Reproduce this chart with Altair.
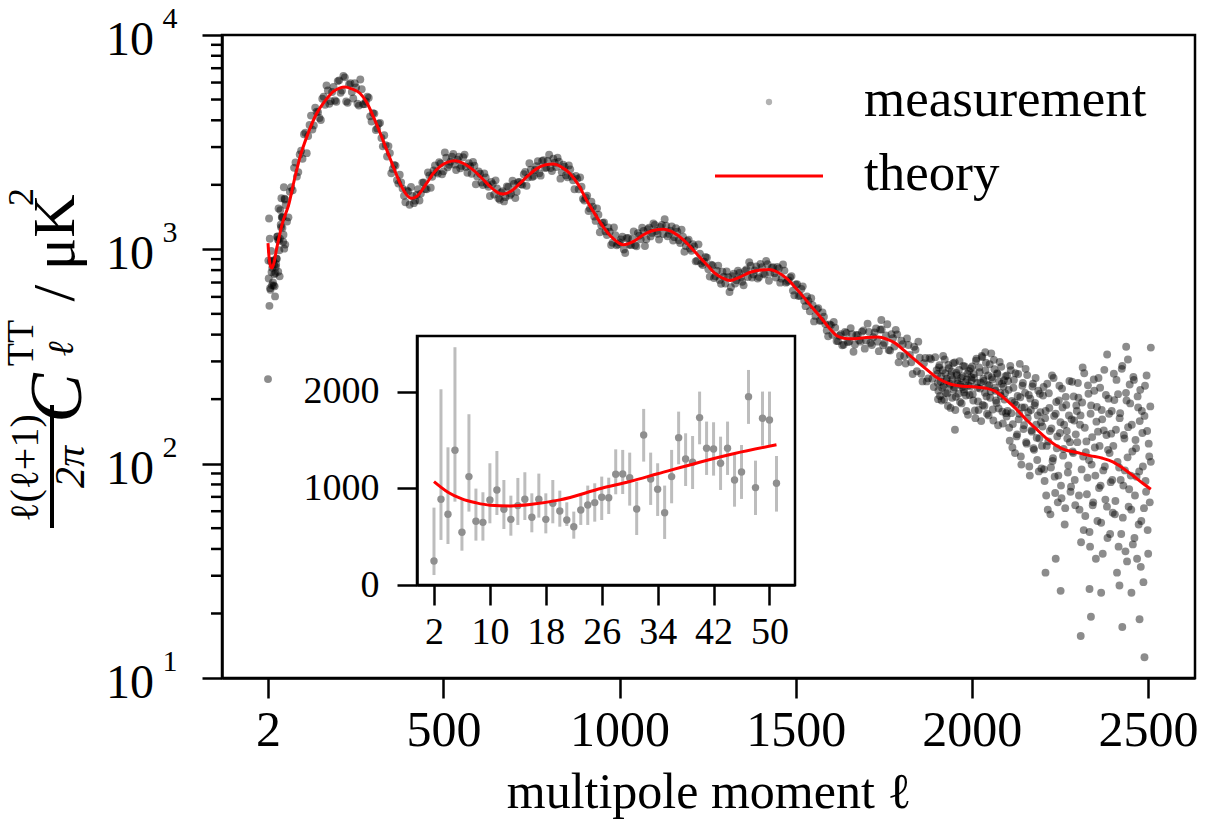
import altair as alt
import pandas as pd

# ---------------- data (read / estimated from the picture) ----------------
theory_ell = [2, 4, 6, 8, 10, 13, 16, 20, 26, 30, 34, 40, 45, 51, 60, 75, 93, 115, 140, 165, 187, 205, 221,
              240, 263, 282, 301, 320, 339, 358, 377, 395, 409, 425, 452, 470, 490, 512, 533, 560, 585, 610,
              633, 652, 670, 690, 717, 742, 765, 790, 812, 835, 859, 883, 906, 930, 954, 980, 1011, 1040,
              1068, 1096, 1124, 1152, 1182, 1205, 1230, 1250, 1270, 1292, 1314, 1340, 1371, 1400, 1424,
              1450, 1476, 1500, 1523, 1547, 1571, 1595, 1618, 1640, 1667, 1700, 1733, 1760, 1780, 1810,
              1838, 1866, 1895, 1920, 1943, 1975, 2009, 2040, 2066, 2095, 2124, 2152, 2181, 2210, 2238,
              2265, 2295, 2335, 2371, 2400, 2430, 2457, 2485, 2508]
theory_val = [1070, 960, 890, 850, 825, 818, 835, 880, 1000, 1070, 1150, 1270, 1360, 1450, 1600, 2050, 2700,
              3450, 4300, 4950, 5440, 5650, 5720, 5600, 5350, 4850, 4160, 3500, 2910, 2420, 2030, 1800,
              1730, 1770, 2030, 2250, 2430, 2550, 2590, 2500, 2340, 2140, 1960, 1850, 1810, 1860, 2030,
              2220, 2380, 2480, 2500, 2420, 2260, 2000, 1700, 1460, 1270, 1130, 1050, 1090, 1170, 1225,
              1240, 1200, 1105, 1010, 910, 840, 775, 735, 715, 740, 782, 800, 805, 780, 728, 660, 597, 535,
              481, 430, 394, 384, 383, 388, 390, 380, 367, 335, 306, 280, 256, 242, 234, 230, 228, 225,
              218, 200, 181, 162, 146, 132, 122, 116, 113, 109, 106, 102, 95, 88, 81, 76]

# low multipoles (inset), ell = 2 .. 51
low_ell_start = 2
low_val = [248, 886, 731, 1393, 545, 1121, 659, 648, 879, 983, 783, 679, 821, 886, 700, 886, 679, 845, 766,
           672, 603, 776, 828, 852, 907, 903, 1145, 1148, 1110, 786, 1552, 1097, 990, 748, 1121, 1524, 1303,
           1269, 1731, 1414, 1407, 1259, 1414, 1086, 1169, 1948, 1007, 1724, 1707, 1052]
low_err_lo = [103, 466, 424, 862, 355, 759, 459, 459, 638, 724, 579, 510, 621, 672, 545, 697, 534, 638, 603,
              610, 479, 621, 621, 655, 672, 734, 938, 941, 821, 517, 1276, 828, 714, 476, 845, 1248, 1024,
              993, 1455, 1138, 1131, 983, 1138, 810, 890, 1666, 724, 1441, 1431, 759]
low_err_hi = [800, 2024, 1424, 2459, 879, 1766, 997, 959, 1259, 1386, 1086, 924, 1107, 1166, 948, 1152, 948,
              1086, 976, 855, 759, 931, 1028, 1052, 1121, 1110, 1403, 1397, 1369, 1069, 1821, 1369, 1259,
              1028, 1397, 1793, 1569, 1541, 2000, 1690, 1683, 1534, 1690, 1362, 1448, 2224, 1286, 2000,
              2000, 1334]

# measurement band, ell = 52, 60, ... and 56, 64, ...
band1_start, band2_start, band_step = 52, 56, 8
band1_val = [1610, 1410, 1950, 2400, 2185, 2770, 2645, 3500, 3380, 4207, 3786, 4386, 4102, 5046, 4727, 5514,
             4914, 5725, 4880, 6145, 5510, 6345, 4825, 5963, 5057, 5689, 4683, 5583, 4758, 5159, 4173, 4322,
             3604, 3857, 3308, 3408, 2711, 2812, 2373, 2458, 2026, 2052, 1776, 1885, 1615, 1773, 1687, 1907,
             1820, 2051, 1908, 2213, 2181, 2465, 2257, 2514, 2311, 2680, 2481, 2702, 2484, 2618, 2388, 2689,
             2425, 2520, 2253, 2455, 2184, 2254, 1997, 2165, 1959, 2060, 1801, 1924, 1704, 1868, 1752, 1956,
             1817, 2019, 1855, 2064, 2000, 2294, 2161, 2352, 2201, 2444, 2264, 2586, 2398, 2584, 2393, 2650,
             2423, 2566, 2292, 2431, 2168, 2361, 2098, 2201, 1907, 1958, 1689, 1781, 1552, 1581, 1357, 1450,
             1292, 1335, 1167, 1208, 1074, 1164, 1056, 1111, 998, 1126, 1052, 1117, 1046, 1191, 1113, 1217,
             1115, 1261, 1193, 1301, 1182, 1273, 1178, 1290, 1180, 1278, 1140, 1208, 1069, 1144, 1037, 1110,
             984, 1031, 884, 955, 845, 921, 808, 847, 734, 795, 720, 786, 692, 742, 666, 769, 718, 777, 706,
             792, 742, 838, 764, 833, 742, 825, 763, 852, 777, 826, 739, 815, 730, 796, 706, 740, 642, 686,
             606, 653, 576, 603, 514, 549, 489, 532, 465, 485, 418, 446, 399, 431, 373, 402, 359, 407, 372,
             402, 360, 399, 371, 418, 376, 412, 358, 410, 371, 422, 357, 396, 339, 402, 352, 401, 319, 361,
             293, 358, 297, 351, 270, 312, 242, 311, 250, 307, 228, 273]
band2_val = [1349, 1858, 1884, 2542, 2293, 2885, 3444, 2811, 3801, 3620, 4580, 4360, 4012, 5157, 5817, 4779,
             5422, 4948, 6094, 5377, 6439, 4899, 5876, 5423, 5954, 4775, 6201, 4755, 4892, 5095, 3950, 4299,
             3665, 3893, 3023, 3065, 3031, 2266, 2479, 2104, 2227, 1921, 1658, 1864, 1956, 1642, 1796, 1690,
             2048, 1911, 2287, 1938, 2333, 2293, 2552, 2241, 2832, 2416, 2565, 2786, 2345, 2706, 2450, 2767,
             2277, 2445, 2555, 2010, 2309, 2048, 2260, 2010, 1774, 2015, 2098, 1731, 1841, 1673, 1963, 1785,
             2088, 1734, 2058, 2012, 2240, 1978, 2523, 2175, 2345, 2581, 2206, 2603, 2404, 2763, 2321, 2536,
             2679, 2137, 2481, 2216, 2460, 2184, 1907, 2133, 2167, 1720, 1746, 1509, 1669, 1423, 1553, 1201,
             1327, 1212, 1266, 1047, 1264, 1044, 1078, 1144, 961, 1131, 1046, 1212, 1034, 1158, 1262, 1037,
             1241, 1149, 1320, 1217, 1110, 1300, 1382, 1150, 1223, 1100, 1256, 1103, 1236, 975, 1095, 1009,
             1058, 879, 1055, 858, 875, 915, 746, 842, 749, 840, 690, 746, 789, 632, 749, 693, 795, 738, 680,
             805, 871, 738, 798, 731, 855, 770, 883, 714, 821, 774, 828, 699, 850, 699, 716, 750, 611, 688,
             608, 672, 543, 574, 592, 461, 526, 464, 508, 448, 393, 443, 458, 374, 395, 357, 412, 369, 429,
             333, 398, 377, 413, 344, 450, 366, 389, 428, 335, 423, 366, 447, 337, 385, 421, 297, 375, 317,
             384, 322, 262, 340, 371, 263, 294, 242, 311, 249, 314, 200]

# noisy tail, ell = 1902, 1905, ... and 1903.5, 1906.5, ...
tail1_start, tail2_start, tail_step = 1902, 1903.5, 3
tail1_val = [262, 219, 288, 241, 197, 273, 231, 306, 214, 249, 186, 279, 236, 258, 203, 294, 227, 178, 265,
             244, 212, 301, 233, 191, 256, 222, 284, 208, 247, 169, 271, 229, 253,
             284, 197, 251, 163, 309, 226, 178, 267, 239, 318, 188, 243, 214, 296, 171, 258, 232, 203, 327,
             247, 159, 276, 219, 192, 262, 181, 298, 207, 236, 154, 245, 213, 172, 258,
             243, 147, 286, 172, 119, 226, 193, 264, 134, 207, 161, 292, 108, 183, 238, 151, 214, 126, 259,
             174, 97, 201, 143, 229, 118, 187, 251, 132, 168, 92, 212, 156, 121,
             208, 94, 163, 71, 236, 127, 182, 58, 146, 103, 251, 87, 171, 118, 66, 197, 139, 79, 224, 109,
             152, 62, 188, 131, 98, 243, 74, 161, 114, 206, 84, 137, 176,
             238, 71, 152, 43, 193, 108, 264, 57, 127, 86, 212, 48, 171, 99, 64, 247, 119, 36, 184, 141, 77,
             226, 53, 161, 93, 274, 68, 136, 45, 201, 112, 82, 176, 59,
             263, 58, 144, 31, 211, 96, 172, 47, 286, 79, 131, 39, 197, 107, 63, 234, 88, 152, 42, 246, 71,
             118, 36, 183, 92, 221, 54, 139, 28, 167, 83, 258, 49, 124, 66, 102]
tail2_val = [238, 281, 207, 255, 226, 318, 199, 264, 243, 213, 289, 231, 182, 269, 248, 221, 297, 205, 259,
             237, 274, 194, 251, 228, 286, 215, 240, 176, 263, 232, 209, 278, 245,
             211, 262, 177, 302, 238, 195, 281, 224, 158, 314, 249, 186, 272, 206, 233, 168, 291, 217, 253,
             179, 305, 226, 197, 264, 151, 242, 214, 283, 175, 229, 199, 256, 166,
             176, 221, 128, 273, 196, 153, 246, 112, 188, 137, 262, 171, 204, 99, 231, 145, 183, 277, 124,
             163, 209, 88, 178, 141, 236, 116, 192, 152, 104, 219, 131, 174, 95,
             149, 228, 83, 176, 121, 61, 213, 142, 96, 258, 106, 167, 73, 194, 134, 88, 231, 156, 69, 183,
             117, 52, 205, 142, 91, 168, 126, 78, 241, 112, 159, 64, 187,
             126, 203, 61, 168, 94, 281, 49, 147, 113, 72, 232, 104, 41, 187, 133, 66, 219, 88, 157, 54, 251,
             121, 79, 178, 38, 143, 97, 209, 63, 116, 171, 47, 138, 84,
             121, 198, 67, 246, 102, 41, 163, 84, 277, 56, 136, 93, 214, 35, 148, 76, 191, 61, 114, 254, 45,
             129, 87, 206, 52, 158, 33, 176, 97, 62, 231, 74, 142, 38, 108, 185]
# individually read outliers
out_ell = [2209, 2252, 2309, 2338, 2367, 2427, 2490, 2476, 2419, 2453, 2334, 2238, 2438, 2508, 2384, 2038,
           1743, 2443, 1952]
out_val = [31, 25.5, 15.7, 19.3, 25, 17.3, 12.5, 18.8, 27, 25, 26, 36, 351, 348, 323, 331, 468, 306, 144]

x_ticks = [2, 500, 1000, 1500, 2000, 2500]
y_major = [10, 100, 1000, 10000]
y_exponent = ["1", "2", "3", "4"]
y_minor = [20, 30, 40, 50, 60, 70, 80, 90, 200, 300, 400, 500, 600, 700, 800, 900,
           2000, 3000, 4000, 5000, 6000, 7000, 8000, 9000]
inset_x_ticks = [2, 10, 18, 26, 34, 42, 50]
inset_y_ticks = [0, 1000, 2000]

# ---------------- tables ----------------
def seq(start, step, n):
    return [start + step * i for i in range(n)]

low_ell = seq(low_ell_start, 1, len(low_val))
all_ell = (low_ell + seq(band1_start, band_step, len(band1_val)) + seq(band2_start, band_step, len(band2_val))
           + seq(tail1_start, tail_step, len(tail1_val)) + seq(tail2_start, tail_step, len(tail2_val))
           + out_ell)
all_val = low_val + band1_val + band2_val + tail1_val + tail2_val + out_val
meas = pd.DataFrame({"ell": all_ell, "val": all_val})
theory = pd.DataFrame({"ell": theory_ell, "val": theory_val})
inset_theory = theory[theory["ell"] <= 51]
inset = pd.DataFrame({"ell": low_ell, "val": low_val, "lo": low_err_lo, "hi": low_err_hi})
pow_df = pd.DataFrame({"v": y_major, "e": y_exponent})
minor_df = pd.DataFrame({"v": y_minor})
one = pd.DataFrame({"a": [0]})

FONT = "Liberation Serif"
W, H = 973, 643


def xs():
    return alt.Scale(domain=[-128.6, 2633.4], nice=False, zero=False)


def ys():
    return alt.Scale(type="log", domain=[10, 10000], nice=False)


x_axis = alt.Axis(orient="bottom", values=x_ticks, format="d", labelFontSize=50, labelFont=FONT, tickSize=20,
                  tickWidth=2.5, domainWidth=2.5, labelPadding=7, title="multipole moment ℓ",
                  titleFontSize=50, titleFont=FONT, titleFontWeight="normal", titlePadding=12, grid=False,
                  labelFlush=False, domainColor="black", tickColor="black", labelColor="black",
                  titleColor="black")
y_axis = alt.Axis(orient="left", values=y_major, labels=False, tickSize=20, tickWidth=2.5, domainWidth=2.5,
                  title="", grid=False, domainColor="black", tickColor="black")

points = alt.Chart(meas).mark_circle(size=62, color="black", opacity=0.45).encode(
    x=alt.X("ell:Q", scale=xs(), axis=x_axis),
    y=alt.Y("val:Q", scale=ys(), axis=y_axis),
)
line = alt.Chart(theory).mark_line(color="#ff0000", strokeWidth=3, interpolate="monotone").encode(
    x=alt.X("ell:Q", scale=xs(), axis=None),
    y=alt.Y("val:Q", scale=ys(), axis=None),
)
minor_ticks = alt.Chart(minor_df).mark_rule(color="black", strokeWidth=2.5).encode(
    y=alt.Y("v:Q", scale=ys(), axis=None), x=alt.value(-11), x2=alt.value(0)
)
lab10 = alt.Chart(pow_df).mark_text(text="10", font=FONT, fontSize=48, align="right", baseline="middle",
                                    dy=6, color="black").encode(
    y=alt.Y("v:Q", scale=ys(), axis=None), x=alt.value(-68)
)
labexp = alt.Chart(pow_df).mark_text(font=FONT, fontSize=30, align="center", baseline="middle",
                                     dy=-16, color="black").encode(
    y=alt.Y("v:Q", scale=ys(), axis=None), x=alt.value(-52), text="e:N"
)


def ttl(txt, x, y, size, style="normal"):
    return alt.Chart(one).mark_text(text=txt, font=FONT, fontSize=size, angle=270, align="center",
                                    baseline="middle", fontStyle=style, color="black").encode(
        x=alt.value(x), y=alt.value(y))


frac_bar = alt.Chart(one).mark_rule(color="black", strokeWidth=4).encode(
    x=alt.value(-170), y=alt.value(370), y2=alt.value(493))
ytitle = [ttl("ℓ(ℓ+1)", -196, 433, 40), frac_bar, ttl("2π", -151, 432, 42, "italic"),
          ttl("C", -163, 363, 74, "italic"), ttl("TT", -200, 308, 38), ttl("ℓ", -160, 314, 36, "italic"),
          ttl("/ μK", -166, 213, 60), ttl("2", -200, 162, 36)]

# legend
leg_dot = alt.Chart(one).mark_circle(size=40, color="black", opacity=0.3).encode(
    x=alt.value(547), y=alt.value(67))
leg_line = alt.Chart(one).mark_rule(color="#ff0000", strokeWidth=3).encode(
    x=alt.value(493), x2=alt.value(601), y=alt.value(141))
leg_t1 = alt.Chart(one).mark_text(text="measurement", font=FONT, fontSize=53, align="left",
                                  baseline="middle", color="black").encode(x=alt.value(642), y=alt.value(65))
leg_t2 = alt.Chart(one).mark_text(text="theory", font=FONT, fontSize=53, align="left",
                                  baseline="middle", color="black").encode(x=alt.value(642), y=alt.value(139))

# ---------------- inset ----------------
def ixs():
    return alt.Scale(domain=[-0.43, 53.65], range=[195, 573], nice=False, zero=False)


def iys():
    return alt.Scale(domain=[0, 2575], range=[550, 301], nice=False, zero=False)


ix_axis = alt.Axis(orient="bottom", offset=-93, values=inset_x_ticks, format="d", labelFontSize=38,
                   labelFont=FONT, tickSize=20, tickWidth=2.5, domainWidth=2.5, labelPadding=8, title="",
                   grid=False, domainColor="black", tickColor="black", labelColor="black", zindex=2,
                   labelFlush=False)
iy_axis = alt.Axis(orient="left", offset=-195, values=inset_y_ticks, format="d", labelFontSize=38,
                   labelFont=FONT, tickSize=20, tickWidth=2.5, domainWidth=2.5, labelPadding=18, title="",
                   grid=False, domainColor="black", tickColor="black", labelColor="black", zindex=2)

frame = alt.Chart(one).mark_rect(fill="white", stroke="black", strokeWidth=2.5).encode(
    x=alt.value(195), x2=alt.value(573), y=alt.value(301), y2=alt.value(550))
ebars = alt.Chart(inset).mark_rule(color="#bdbdbd", strokeWidth=3).encode(
    x=alt.X("ell:Q", scale=ixs(), axis=ix_axis),
    y=alt.Y("lo:Q", scale=iys(), axis=iy_axis),
    y2="hi:Q",
)
idots = alt.Chart(inset).mark_circle(size=55, color="#8f8f8f", opacity=1).encode(
    x=alt.X("ell:Q", scale=ixs(), axis=None),
    y=alt.Y("val:Q", scale=iys(), axis=None),
)
iline = alt.Chart(inset_theory).mark_line(color="#ff0000", strokeWidth=3, interpolate="monotone").encode(
    x=alt.X("ell:Q", scale=ixs(), axis=None),
    y=alt.Y("val:Q", scale=iys(), axis=None),
)

chart = alt.layer(
    points, line, minor_ticks, lab10, labexp, *ytitle, leg_dot, leg_line, leg_t1, leg_t2,
    frame, ebars, idots, iline,
).resolve_scale(x="independent", y="independent").properties(
    width=W, height=H,
    autosize=alt.AutoSizeParams(type="none"),
    padding={"left": 222, "top": 35, "right": 14, "bottom": 161},
    background="white",
).configure_view(stroke="black", strokeWidth=2.5).configure_axis(grid=False)

chart.save("out.html", embed_options={"renderer": "svg", "actions": False})
